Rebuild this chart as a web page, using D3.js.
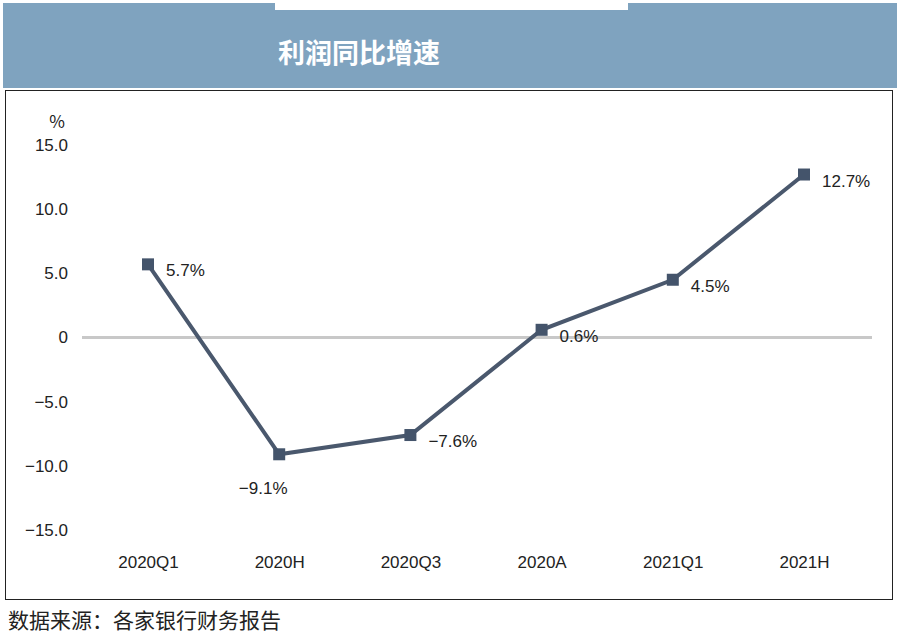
<!DOCTYPE html>
<html><head><meta charset="utf-8">
<script src="https://cdn.jsdelivr.net/npm/d3@7"></script>
<style>body{margin:0;background:#fff;font-family:"Noto Sans CJK SC","Liberation Sans",sans-serif}</style>
</head><body><div id="chart"></div>
<script>
const categories = ["2020Q1", "2020H", "2020Q3", "2020A", "2021Q1", "2021H"];
const values = [5.7, -9.1, -7.6, 0.6, 4.5, 12.7];
const yTicks = [15, 10, 5, 0, -5, -10, -15];
const title = "利润同比增速";
const source = "数据来源：各家银行财务报告";

const svg = d3.select("#chart").append("svg").attr("width", 900).attr("height", 643);

// header band
svg.append("rect").attr("x", 3).attr("y", 3).attr("width", 894).attr("height", 85).attr("fill", "#7fa3bf");
svg.append("rect").attr("x", 275).attr("y", 0).attr("width", 353).attr("height", 10).attr("fill", "#fff");
svg.append("text").attr("x", 278).attr("y", 63).attr("fill", "#fff")
    .attr("font-size", 27).attr("font-weight", "bold").text(title);

// plot frame
svg.append("rect").attr("x", 5.5).attr("y", 90.5).attr("width", 887).attr("height", 509)
    .attr("fill", "#fff").attr("stroke", "#222").attr("stroke-width", 1);

const x = d3.scalePoint().domain(categories).range([148, 804]);
const y = d3.scaleLinear().domain([-15, 15]).range([530, 145]);

const yAxis = svg.append("g").attr("transform", "translate(68,0)")
    .call(d3.axisLeft(y).tickValues(yTicks).tickSize(0).tickPadding(0)
        .tickFormat(d => d === 0 ? "0" : d3.format(".1f")(d).replace("-", "–")));
yAxis.select(".domain").remove();
yAxis.selectAll("text").attr("font-size", 17).attr("fill", "#222")
    .attr("font-family", "Liberation Sans, sans-serif");

svg.append("text").attr("x", 57).attr("y", 128).attr("text-anchor", "middle")
    .attr("font-size", 17).attr("fill", "#222").text("%");

const xAxis = svg.append("g").attr("transform", "translate(0,568)")
    .call(d3.axisBottom(x).tickSize(0).tickPadding(0));
xAxis.select(".domain").remove();
xAxis.selectAll("text").attr("font-size", 17).attr("fill", "#222")
    .attr("font-family", "Liberation Sans, sans-serif").attr("dy", "0");

svg.append("line").attr("x1", 82).attr("x2", 872).attr("y1", y(0)).attr("y2", y(0))
    .attr("stroke", "#c8c8c8").attr("stroke-width", 3);

const data = categories.map((c, i) => ({c, v: values[i]}));
svg.append("path").datum(data)
    .attr("d", d3.line().x(d => x(d.c)).y(d => y(d.v)))
    .attr("fill", "none").attr("stroke", "#4a586d").attr("stroke-width", 4);

svg.selectAll(".pt").data(data).enter().append("rect")
    .attr("x", d => x(d.c) - 6).attr("y", d => y(d.v) - 6)
    .attr("width", 12).attr("height", 12).attr("fill", "#44546b");

const below = {"2020H": true};
svg.selectAll(".lbl").data(data).enter().append("text")
    .attr("x", d => below[d.c] ? x(d.c) - 16 : x(d.c) + (d.c === "2020Q3" ? 18 : 18))
    .attr("y", d => below[d.c] ? y(d.v) + 40 : y(d.v) + 12)
    .attr("font-size", 17).attr("fill", "#222").attr("font-family", "Liberation Sans, sans-serif")
    .attr("text-anchor", d => below[d.c] ? "middle" : "start")
    .text(d => d3.format(".1f")(d.v).replace("-", "–") + "%");

svg.append("text").attr("x", 8).attr("y", 628).attr("font-size", 21).attr("fill", "#222").text(source);
</script></body></html>
